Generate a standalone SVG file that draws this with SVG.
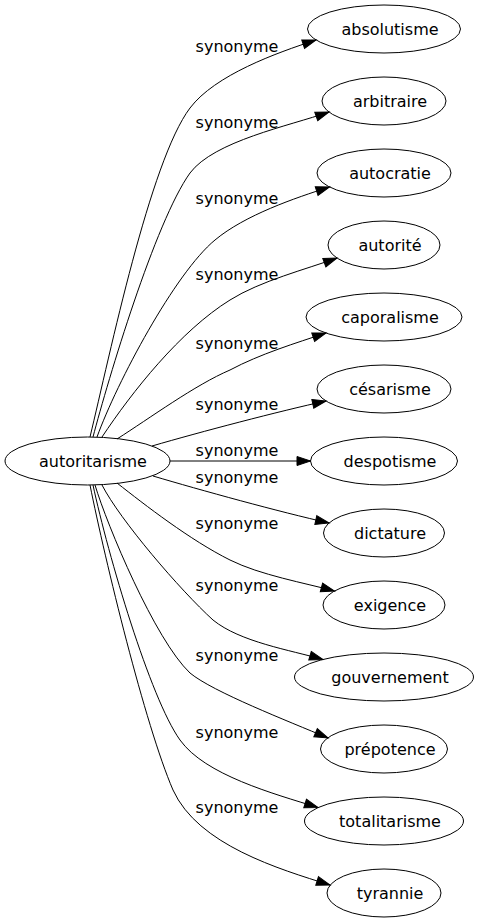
<svg xmlns="http://www.w3.org/2000/svg" width="477" height="923" viewBox="0 0 477 923">
<style>
.n ellipse{fill:none;stroke:#000;stroke-width:1}
text{font-family:"DejaVu Sans","Liberation Sans",sans-serif;font-size:16px;fill:#000;text-anchor:middle}
.e path{fill:none;stroke:#000;stroke-width:1;marker-end:url(#ah)}
</style>
<defs>
<marker id="ah" markerUnits="userSpaceOnUse" markerWidth="16" markerHeight="12" viewBox="0 0 16 12" refX="13.5" refY="5" orient="auto" overflow="visible">
<path d="M0,0.5 L13.5,5 L0,9.5 Z" fill="#000" stroke="#000" stroke-width="1"/>
</marker>
</defs>
<rect width="477" height="923" fill="#fff"/>
<g id="edges" class="e">
<path d="M90,437 C110,354 150,161 190,108 C215,75 276,53 316,40"/>
<path d="M93,437 C108,380 155,222 190,173 C214,141 289,126 329,112"/>
<path d="M97,437 C117,382 175,273 215,240 C245,215 295,198 329.5,187"/>
<path d="M102,437 C132,392 180,331 230,300 C260,281 307,269 337,258"/>
<path d="M117,439 C150,418 195,385 230,370 C260,354 296,343 326,333"/>
<path d="M152,446 C200,432 280,411 326,401"/>
<path d="M170,461 L310.5,461"/>
<path d="M153,476 C200,490 280,512 329,523"/>
<path d="M117,483 C145,505 190,540 230,560 C260,575 305,583 334.5,591"/>
<path d="M102,485 C120,520 180,590 213,620 C240,642 290,650 323,659.5"/>
<path d="M95,485 C107,525 155,640 190,673 C213,692 288,721 328,738"/>
<path d="M93,485 C108,555 150,698 180,740 C205,775 273,793.5 318,807.5"/>
<path d="M90,485 C105,560 145,725 173,790 C198,845 279,869 330,885"/>
</g>
<g id="labels">
<text x="237" y="51.5">synonyme</text>
<text x="237" y="128">synonyme</text>
<text x="237" y="204">synonyme</text>
<text x="237" y="280">synonyme</text>
<text x="237" y="349">synonyme</text>
<text x="237" y="410">synonyme</text>
<text x="237" y="455.5">synonyme</text>
<text x="237" y="483">synonyme</text>
<text x="237" y="529">synonyme</text>
<text x="237" y="591">synonyme</text>
<text x="237" y="661">synonyme</text>
<text x="237" y="738">synonyme</text>
<text x="237" y="813">synonyme</text>
</g>
<g id="autoritarisme" class="n"><ellipse cx="87.5" cy="461" rx="82.5" ry="24"/><text x="93" y="466.5">autoritarisme</text></g>
<g id="absolutisme" class="n"><ellipse cx="384" cy="29" rx="76.5" ry="24"/><text x="390" y="34.5">absolutisme</text></g>
<g id="arbitraire" class="n"><ellipse cx="384" cy="101" rx="62" ry="24"/><text x="390" y="106.5">arbitraire</text></g>
<g id="autocratie" class="n"><ellipse cx="384" cy="173" rx="67" ry="24"/><text x="390" y="178.5">autocratie</text></g>
<g id="autorite" class="n"><ellipse cx="384" cy="245" rx="56" ry="24"/><text x="390" y="250.5">autorité</text></g>
<g id="caporalisme" class="n"><ellipse cx="384" cy="317" rx="78" ry="24"/><text x="390" y="322.5">caporalisme</text></g>
<g id="cesarisme" class="n"><ellipse cx="384" cy="389" rx="67" ry="24"/><text x="390" y="394.5">césarisme</text></g>
<g id="despotisme" class="n"><ellipse cx="384" cy="461" rx="73.5" ry="24"/><text x="390" y="466.5">despotisme</text></g>
<g id="dictature" class="n"><ellipse cx="384" cy="533" rx="60.5" ry="24"/><text x="390" y="538.5">dictature</text></g>
<g id="exigence" class="n"><ellipse cx="384" cy="605" rx="61" ry="24"/><text x="390" y="610.5">exigence</text></g>
<g id="gouvernement" class="n"><ellipse cx="384" cy="677" rx="89.5" ry="24"/><text x="390" y="682.5">gouvernement</text></g>
<g id="prepotence" class="n"><ellipse cx="384" cy="749" rx="63.5" ry="24"/><text x="390" y="754.5">prépotence</text></g>
<g id="totalitarisme" class="n"><ellipse cx="384" cy="821" rx="79.5" ry="24"/><text x="390" y="826.5">totalitarisme</text></g>
<g id="tyrannie" class="n"><ellipse cx="384" cy="893" rx="57" ry="24"/><text x="390" y="898.5">tyrannie</text></g>
</svg>
